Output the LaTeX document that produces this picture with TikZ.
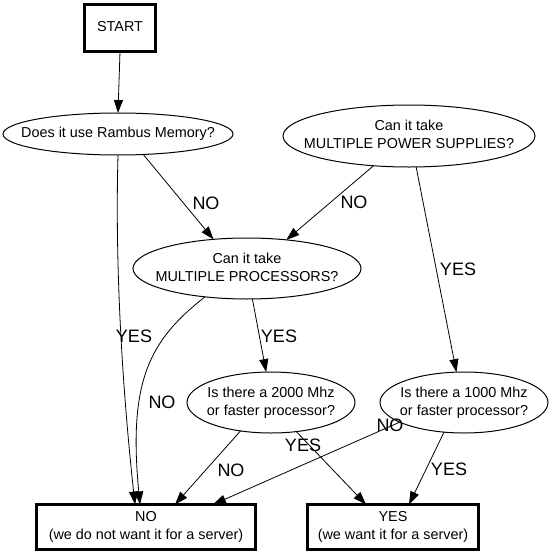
\documentclass[tikz,border=0pt]{standalone}
\usepackage{fontspec}
\setmainfont{Liberation Sans}
\usetikzlibrary{shapes.geometric,arrows.meta}
\newcommand{\ctext}[1]{\makebox[0pt]{\begin{tabular}{@{}c@{}}#1\end{tabular}}}
\tikzset{
  base/.style={inner sep=0pt, outer sep=0pt, font=\fontsize{14.4}{18}\selectfont},
  boxnode/.style={base, draw, rectangle, line width=3pt},
  ell/.style={base, draw, ellipse, line width=1pt},
  lbl/.style={inner sep=0pt, font=\fontsize{18}{20}\selectfont},
  arr/.style={line width=0.8pt, -{Triangle[length=13pt,width=9pt]}}
}
\begin{document}
\begin{tikzpicture}[x=1pt,y=-1pt]
\useasboundingbox (0,0) rectangle (552,557);
% nodes
\node[boxnode, minimum width=71pt, minimum height=47pt] (start) at (120,28) {\ctext{START}};
\node[ell, minimum width=230pt, minimum height=42pt] (ram) at (118,134) {\ctext{Does it use Rambus Memory?}};
\node[ell, minimum width=252pt, minimum height=62pt] (pow) at (409,136) {\ctext{Can it take\\MULTIPLE POWER SUPPLIES?}};
\node[ell, minimum width=228pt, minimum height=61pt] (proc) at (247,268.5) {\ctext{Can it take\\MULTIPLE PROCESSORS?}};
\node[ell, minimum width=168pt, minimum height=61pt] (two) at (271,402.5) {\ctext{Is there a 2000 Mhz\\or faster processor?}};
\node[ell, minimum width=168pt, minimum height=61pt] (one) at (464,402.5) {\ctext{Is there a 1000 Mhz\\or faster processor?}};
\node[boxnode, minimum width=219pt, minimum height=45pt] (no) at (146,527) {\ctext{NO\\(we do not want it for a server)}};
\node[boxnode, minimum width=171pt, minimum height=45pt] (yes) at (393,527) {\ctext{YES\\(we want it for a server)}};
% connectors
\draw[arr] (start.south) -- (ram.north);
\draw[arr] (ram.-39) -- (proc.139);
\draw[arr] (ram.south) .. controls (114,300) and (128,440) .. ([xshift=-11pt]no.north);
\draw[arr] (pow.-140.5) -- (proc.36.3);
\draw[arr] (pow.-77.3) -- (one.104.7);
\draw[arr] (proc.-80.7) -- (two.99.3);
\draw[arr] (proc.-146) .. controls (150,340) and (128,380) .. ([xshift=-6pt]no.north);
\draw[arr] (two.-137.6) -- ([xshift=29pt]no.north);
\draw[arr] (two.-49.3) -- ([xshift=-27pt]yes.north);
\draw[arr] (one.-163.5) -- ([xshift=67pt]no.north);
\draw[arr] (one.-124) -- ([xshift=16pt]yes.north);
% labels
\node[lbl] (l1) at (206,203) {NO};
\node[lbl] (l2) at (354,202) {NO};
\node[lbl] (l3) at (458,269) {YES};
\node[lbl] (l4) at (134,336) {YES};
\node[lbl] (l5) at (279,336) {YES};
\node[lbl] (l6) at (162,402) {NO};
\node[lbl] (l7) at (231,470) {NO};
\node[lbl] (l8) at (303,445) {YES};
\node[lbl] (l9) at (390,425) {NO};
\node[lbl] (l10) at (449,469) {YES};
\end{tikzpicture}
\end{document}
